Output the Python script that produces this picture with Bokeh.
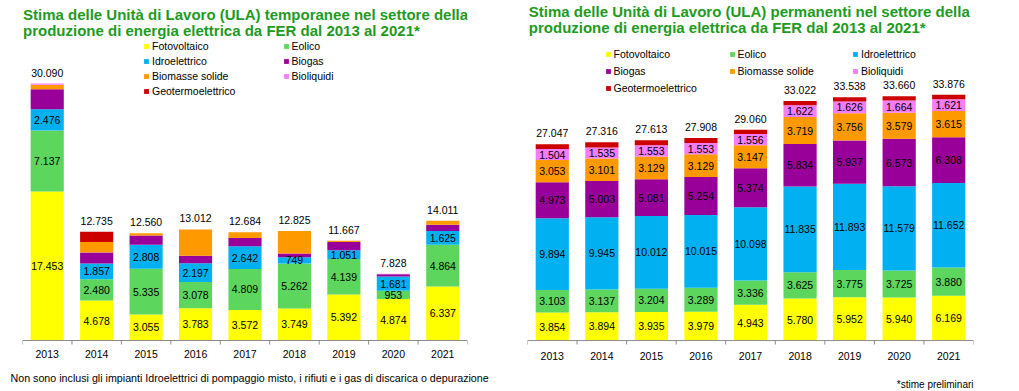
from bokeh.plotting import figure
from bokeh.models import Range1d, FactorRange, Label, Legend, LegendItem, ColumnDataSource
from bokeh.layouts import row, column
from bokeh.embed import file_html
from bokeh.resources import INLINE
from bokeh.core.properties import value

years = ["2013", "2014", "2015", "2016", "2017", "2018", "2019", "2020", "2021"]
series_keys = ["foto", "eol", "idro", "biogas", "biom", "bioliq", "geo"]
series_names = ["Fotovoltaico", "Eolico", "Idroelettrico", "Biogas",
                "Biomasse solide", "Bioliquidi", "Geotermoelettrico"]
series_colors = ["#FFFF00", "#5CD65C", "#00B0F0", "#990099", "#FF9900", "#F77CF7", "#CC0000"]

# ULA temporanee
temp_foto = [17453, 4678, 3055, 3783, 3572, 3749, 5392, 4874, 6337]
temp_eol = [7137, 2480, 5335, 3078, 4809, 5262, 4139, 953, 4864]
temp_idro = [2476, 1857, 2808, 2197, 2642, 749, 1051, 1681, 1625]
temp_biogas = [2360, 1300, 1090, 860, 990, 430, 940, 250, 740]
temp_biom = [510, 1220, 272, 3094, 671, 2635, 145, 0, 445]
temp_bioliq = [154, 0, 0, 0, 0, 0, 0, 70, 0]
temp_geo = [0, 1200, 0, 0, 0, 0, 0, 0, 0]

# ULA permanenti
perm_foto = [3854, 3894, 3935, 3979, 4943, 5780, 5952, 5940, 6169]
perm_eol = [3103, 3137, 3204, 3289, 3336, 3625, 3775, 3725, 3880]
perm_idro = [9894, 9945, 10012, 10015, 10098, 11835, 11893, 11579, 11652]
perm_biogas = [4973, 5003, 5081, 5254, 5374, 5834, 5937, 6573, 6308]
perm_biom = [3053, 3101, 3129, 3129, 3147, 3719, 3756, 3579, 3615]
perm_bioliq = [1504, 1535, 1553, 1553, 1556, 1622, 1626, 1664, 1621]
perm_geo = [666, 701, 699, 689, 606, 607, 599, 600, 631]

title_temp = ["Stima delle Unità di Lavoro (ULA) temporanee nel settore della",
              "produzione di energia elettrica da FER dal 2013 al 2021*"]
title_perm = ["Stima delle Unità di Lavoro (ULA) permanenti nel settore della",
              "produzione di energia elettrica da FER dal 2013 al 2021*"]
note_temp = "Non sono inclusi gli impianti Idroelettrici di pompaggio misto, i rifiuti e i gas di discarica  o depurazione"
note_perm = "*stime preliminari"

FONT = "Liberation Sans"
GREEN = "#1E9B1E"
H = 372       # chart strip height
HN = 19       # footnote strip height


def fmt(v):
    return f"{v:,}".replace(",", ".")


def make_chart(lists, labelled, titles, legend_cols, g):
    u = g["u"]
    base = g["base"]
    fb = base + 5  # frame bottom (page y)
    fl = g["fl"]

    def sx(px):
        return px - fl

    def sy(py):
        return fb - py

    p = figure(x_range=FactorRange(*years), y_range=Range1d(-5 * u, base * u),
               width=g["w"], height=H, min_border_left=g["ml"], min_border_right=g["mr"],
               min_border_top=0, min_border_bottom=H - fb, title=None,
               toolbar_location=None, output_backend="svg", y_axis_location=None,
               outline_line_color=None)
    p.xgrid.visible = False
    p.ygrid.visible = False
    ax = p.xaxis[0]
    ax.axis_line_color = None
    ax.major_tick_line_color = None
    ax.major_tick_out = 0
    ax.major_tick_in = 0
    ax.major_label_standoff = g["standoff"]
    ax.major_label_text_font = FONT
    ax.major_label_text_font_size = "10.5px"
    ax.major_label_text_color = "black"

    data = {"x": years}
    for k, l in zip(series_keys, lists):
        data[k] = l
    src = ColumnDataSource(data)
    rs = p.vbar_stack(series_keys, x="x", width=0.67, source=src,
                      fill_color=series_colors, line_color=None)

    # baseline + boundary ticks
    bx = [(y, -0.5) for y in years] + [(years[-1], 0.5)]
    p.segment(x0=[bx[0]], y0=[0], x1=[bx[-1]], y1=[0], line_color="#8C8C8C", line_width=1)
    p.segment(x0=bx, y0=[0] * len(bx), x1=bx, y1=[-4 * u] * len(bx),
              line_color="#8C8C8C", line_width=1)

    # segment labels
    lx, ly, lt = [], [], []
    cum = [0] * len(years)
    for i, l in enumerate(lists):
        for j, v in enumerate(l):
            if i in labelled and v > 0:
                lx.append(years[j])
                ly.append(cum[j] + v / 2)
                lt.append(fmt(v))
            cum[j] += v
    p.text(x=lx, y=ly, text=lt, text_align="center", text_baseline="middle",
           text_font=value(FONT), text_font_size="10.5px", text_color="black")
    # totals
    p.text(x=years, y=cum, text=[fmt(v) for v in cum], text_align="center",
           text_baseline="middle", y_offset=-11,
           text_font=value(FONT), text_font_size="10.5px", text_color="black")

    # titles
    for t, (px, py) in zip(titles, g["title_pos"]):
        p.add_layout(Label(x=sx(px), y=sy(py), x_units="screen", y_units="screen",
                           text=t, text_font=FONT, text_font_size="15px",
                           text_font_style="bold", text_color=GREEN,
                           text_baseline="alphabetic", text_align="left"))

    # legends (location = bottom-left corner)
    lh, sp = g["leg_lh"], g["leg_sp"]
    for col, px in zip(legend_cols, g["leg_x"]):
        n = len(col)
        bottom = g["leg_top"] + n * lh + (n - 1) * sp
        leg = Legend(items=[LegendItem(label=series_names[i], renderers=[rs[i]]) for i in col],
                     location=(sx(px), sy(bottom)),
                     glyph_width=6, glyph_height=6, label_standoff=3,
                     label_height=lh, spacing=sp,
                     label_text_font=FONT, label_text_font_size="10.5px",
                     label_text_color="black", padding=0, margin=0,
                     border_line_color=None, background_fill_alpha=0)
        p.add_layout(leg, "center")
    return p


left = make_chart(
    [temp_foto, temp_eol, temp_idro, temp_biogas, temp_biom, temp_bioliq, temp_geo],
    {0, 1, 2}, title_temp,
    [[0, 2, 4, 6], [1, 3, 5]],
    dict(u=117.1, base=340, fl=22, w=505, ml=22, mr=38, standoff=4,
         title_pos=[(22.5, 14), (22.5, 30)],
         leg_x=[143, 282.5], leg_top=39.5, leg_lh=13, leg_sp=2))

right = make_chart(
    [perm_foto, perm_eol, perm_idro, perm_biogas, perm_biom, perm_bioliq, perm_geo],
    {0, 1, 2, 3, 4, 5}, title_perm,
    [[0, 3, 6], [1, 4], [2, 5]],
    dict(u=136.2, base=344, fl=527, w=512, ml=22, mr=44, standoff=6,
         title_pos=[(528.3, 14.5), (528.3, 30.5)],
         leg_x=[604.5, 728.5, 852], leg_top=50, leg_lh=15, leg_sp=2))

# footnote strip
notes = figure(width=1017, height=HN, x_range=Range1d(0, 1017), y_range=Range1d(0, HN),
               min_border=0, title=None, toolbar_location=None, output_backend="svg",
               x_axis_location=None, y_axis_location=None, outline_line_color=None)
notes.grid.visible = False
notes.add_layout(Label(x=10, y=HN - (377 - H), x_units="screen", y_units="screen",
                       text=note_temp, text_font=FONT, text_font_size="10.7px",
                       text_color="black", text_baseline="middle", text_align="left"))
notes.add_layout(Label(x=973, y=HN - (384 - H), x_units="screen", y_units="screen",
                       text=note_perm, text_font=FONT, text_font_size="10px",
                       text_color="black", text_baseline="middle", text_align="right"))

layout = column(row(left, right), notes)
open("out.html", "w").write(file_html(layout, INLINE))
